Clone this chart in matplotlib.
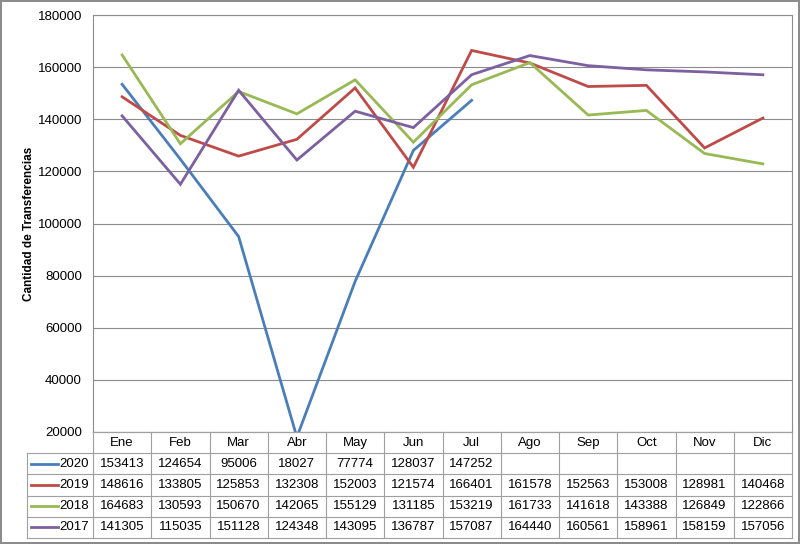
import matplotlib.pyplot as plt
from matplotlib.lines import Line2D
import numpy as np

# Data
MONTHS = ['Ene', 'Feb', 'Mar', 'Abr', 'May', 'Jun', 'Jul', 'Ago', 'Sep', 'Oct', 'Nov', 'Dic']
Y2020 = [153413, 124654, 95006, 18027, 77774, 128037, 147252]
Y2019 = [148616, 133805, 125853, 132308, 152003, 121574, 166401, 161578, 152563, 153008, 128981, 140468]
Y2018 = [164683, 130593, 150670, 142065, 155129, 131185, 153219, 161733, 141618, 143388, 126849, 122866]
Y2017 = [141305, 115035, 151128, 124348, 143095, 136787, 157087, 164440, 160561, 158961, 158159, 157056]
YEARS = ['2020', '2019', '2018', '2017']
COLORS = ['#4A7EBB', '#BE4B48', '#98B954', '#7D60A0']

plt.rcParams['font.family'] = ['Liberation Sans', 'DejaVu Sans']
W, H = 800, 544
fig = plt.figure(figsize=(W / 100, H / 100), dpi=100)
fig.patch.set_edgecolor('#8c8c8c')
fig.patch.set_linewidth(1.5)

# Main plot area (pixel coords)
left, right, top, bottom = 93, 792, 15, 432
ax = fig.add_axes([left / W, 1 - bottom / H, (right - left) / W, (bottom - top) / H])
x = np.arange(len(MONTHS))
series = [Y2020, Y2019, Y2018, Y2017]
for vals, c in zip(series, COLORS):
    ax.plot(x[:len(vals)], vals, color=c, linewidth=2.0, solid_joinstyle='miter')
ax.set_xlim(-0.5, 11.5)
ax.set_ylim(20000, 180000)
ax.set_yticks(range(20000, 180001, 20000))
ax.tick_params(axis='y', length=0, labelsize=9.5, pad=8)
ax.set_xticks([])
ax.grid(axis='y', color='#8c8c8c', linewidth=0.8)
for s in ax.spines.values():
    s.set_color('#8c8c8c')
    s.set_linewidth(0.8)
ax.set_ylabel('Cantidad de Transferencias', fontsize=8.5, fontweight='bold')
ax.yaxis.set_label_coords(-0.083, 0.5)

# Data table below the plot
row_h = 21.2
unit = (right - left) / 12.0
tleft = 27
tab = fig.add_axes([0, 0, 1, 1], facecolor='none')
tab.set_xlim(0, W)
tab.set_ylim(H, 0)
tab.axis('off')
grid_c = '#a0a0a0'


def col_x(i):
    return left + i * unit


# header row
tab.plot([left, right], [bottom, bottom], color=grid_c, lw=0.8)
for i, m in enumerate(MONTHS):
    tab.text(col_x(i) + unit / 2, bottom + row_h / 2, m, ha='center', va='center', fontsize=9.5)
# horizontal lines
for r in range(1, 6):
    y = bottom + r * row_h
    tab.plot([tleft, right], [y, y], color=grid_c, lw=0.8)
# vertical lines
tab.plot([tleft, tleft], [bottom + row_h, bottom + 5 * row_h], color=grid_c, lw=0.8)
for i in range(13):
    tab.plot([col_x(i), col_x(i)], [bottom, bottom + 5 * row_h], color=grid_c, lw=0.8)

for r, (yr, vals, c) in enumerate(zip(YEARS, series, COLORS)):
    yc = bottom + (r + 1.5) * row_h
    tab.add_line(Line2D([31, 58], [yc, yc], color=c, lw=2.0))
    tab.text(89, yc, yr, ha='right', va='center', fontsize=9.5)
    for i, v in enumerate(vals):
        tab.text(col_x(i) + unit / 2, yc, str(v), ha='center', va='center', fontsize=9.5)

fig.savefig('out.png', dpi=100, edgecolor=fig.get_edgecolor())
